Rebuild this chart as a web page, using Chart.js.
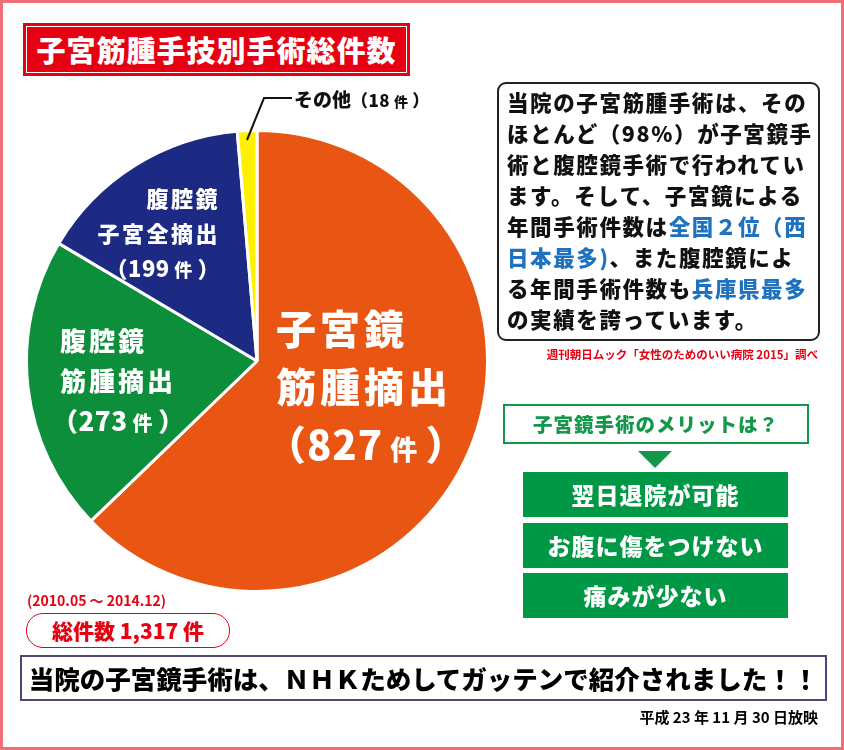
<!DOCTYPE html>
<html lang="ja">
<head>
<meta charset="utf-8">
<script src="https://cdn.jsdelivr.net/npm/chart.js@4.4.1/dist/chart.umd.min.js"></script>
<style>
  html, body { margin: 0; padding: 0; background: #fff; }
  body { width: 844px; height: 750px; position: relative; overflow: hidden;
         font-family: "Noto Sans CJK JP", "Noto Sans", sans-serif; }
  .frame { position: absolute; left: 0; top: 0; width: 838px; height: 744px;
           border: 3px solid #ef6f78; }
  .abs { position: absolute; white-space: nowrap; }
  .title { left: 23px; top: 23px; width: 387px; height: 53px; background: #e60012; }
  .title .inner { position: absolute; left: 3px; top: 3px; right: 3px; bottom: 3px;
                  border: 1px solid #fff; color: #fff; font-weight: 900; font-size: 29px;
                  line-height: 45px; text-align: center; letter-spacing: 1px; }
  #pieWrap { position: absolute; left: 25px; top: 129px; width: 464px; height: 464px; }
  .pl { color: #fff; font-weight: 900; }
  .note { left: 497px; top: 82px; width: 319px; height: 255px; border: 2px solid #222;
          border-radius: 9px; }
  .note div { position: absolute; left: 8px; font-size: 21.5px; font-weight: 900;
              letter-spacing: 1.6px; color: #111; line-height: 30px; }
  .blue { color: #1f72bf; }
  .src { right: 26px; top: 346px; color: #e60012; font-size: 11.5px; font-weight: 700; }
  .q { left: 503px; top: 404px; width: 302px; height: 36px; border: 2px solid #13974a;
       color: #13974a; font-weight: 900; font-size: 19.5px; line-height: 36px; text-align: center;
       letter-spacing: 1px; }
  .tri { left: 638px; top: 451px; width: 0; height: 0; border-left: 17px solid transparent;
         border-right: 17px solid transparent; border-top: 17px solid #13974a; }
  .gb { left: 523px; width: 265px; height: 45px; background: #009844; color: #fff;
        font-weight: 900; font-size: 23px; line-height: 45px; text-align: center; letter-spacing: 1px; }
  .date { left: 27px; top: 590px; color: #e60012; font-weight: 700; font-size: 14px; }
  .total { left: 26px; top: 613px; width: 202px; height: 33px; border: 1.5px solid #e60012;
           border-radius: 17px; color: #e60012; font-weight: 900; font-size: 21px;
           line-height: 33px; text-align: center; }
  .nhk { left: 20px; top: 655px; width: 803px; height: 42px; border: 2px solid #4a4a78;
         color: #000; font-weight: 900; font-size: 25.5px; line-height: 42px; text-align: center;
         letter-spacing: 0px; }
  .air { right: 26px; top: 706px; color: #000; font-weight: 700; font-size: 15px; }
</style>
</head>
<body>
<div class="frame"></div>

<div class="abs title"><div class="inner">子宮筋腫手技別手術総件数</div></div>

<div id="pieWrap"><canvas id="pieCanvas" width="464" height="464"></canvas></div>

<!-- slice labels -->
<div class="abs pl" style="left:276px; top:298px; font-size:40px; letter-spacing:4px; line-height:58px;">
  子宮鏡<br>筋腫摘出<br><span style="letter-spacing:1px; margin-left:-10px;">（827<span style="font-size:27px;"> 件 </span>）</span>
</div>
<div class="abs pl" style="left:96px; top:180px; font-size:22px; letter-spacing:2.5px; line-height:35px; text-align:right; width:124px;">
  腹腔鏡<br>子宮全摘出<br><span style="letter-spacing:0.5px;">（199<span style="font-size:18px;"> 件 </span>）</span>
</div>
<div class="abs pl" style="left:60px; top:320px; font-size:26px; letter-spacing:3px; line-height:40px;">
  腹腔鏡<br>筋腫摘出<br><span style="letter-spacing:0.5px; margin-left:-8px;">（273<span style="font-size:20px;"> 件 </span>）</span>
</div>

<svg class="abs" style="left:0; top:0;" width="844" height="750">
  <polyline points="292,98 264,98 247,140" fill="none" stroke="#111" stroke-width="2"/>
</svg>
<div class="abs" style="left:294px; top:85px; font-size:19px; font-weight:900; color:#111;">
  その他<span style="font-size:17px; letter-spacing:0.5px;">（18<span style="font-size:14px;"> 件 </span>）</span>
</div>

<div class="abs note">
  <div style="top:3px;">当院の子宮筋腫手術は、その</div>
  <div style="top:34px;">ほとんど（98%）が子宮鏡手</div>
  <div style="top:65px;">術と腹腔鏡手術で行われてい</div>
  <div style="top:96px;">ます。そして、子宮鏡による</div>
  <div style="top:127px;">年間手術件数は<span class="blue">全国２位（西</span></div>
  <div style="top:158px;"><span class="blue">日本最多)</span>、また腹腔鏡によ</div>
  <div style="top:189px;">る年間手術件数も<span class="blue">兵庫県最多</span></div>
  <div style="top:220px;">の実績を誇っています。</div>
</div>
<div class="abs src">週刊朝日ムック「女性のためのいい病院 2015」調べ</div>

<div class="abs q">子宮鏡手術のメリットは？</div>
<div class="abs tri"></div>
<div class="abs gb" style="top:472px;">翌日退院が可能</div>
<div class="abs gb" style="top:523px;">お腹に傷をつけない</div>
<div class="abs gb" style="top:573px;">痛みが少ない</div>

<div class="abs date">(2010.05 ～ 2014.12)</div>
<div class="abs total">総件数 1,317 件</div>

<div class="abs nhk">当院の子宮鏡手術は、ＮＨＫためしてガッテンで紹介されました！！</div>
<div class="abs air">平成 23 年 11 月 30 日放映</div>

<script>
const categories = ["子宮鏡筋腫摘出", "腹腔鏡筋腫摘出", "腹腔鏡子宮全摘出", "その他"];
const counts = [827, 273, 199, 18];
const sliceColors = ["#e95513", "#0c8e3a", "#1d2a84", "#fff000"];

new Chart(document.getElementById("pieCanvas"), {
  type: "pie",
  data: {
    labels: categories,
    datasets: [{
      data: counts,
      backgroundColor: sliceColors,
      borderColor: "#ffffff",
      borderWidth: 3,
    }],
  },
  options: {
    responsive: false,
    animation: false,
    layout: { padding: 0 },
    plugins: {
      legend: { display: false },
      tooltip: { enabled: false },
    },
  },
});
</script>
</body>
</html>
